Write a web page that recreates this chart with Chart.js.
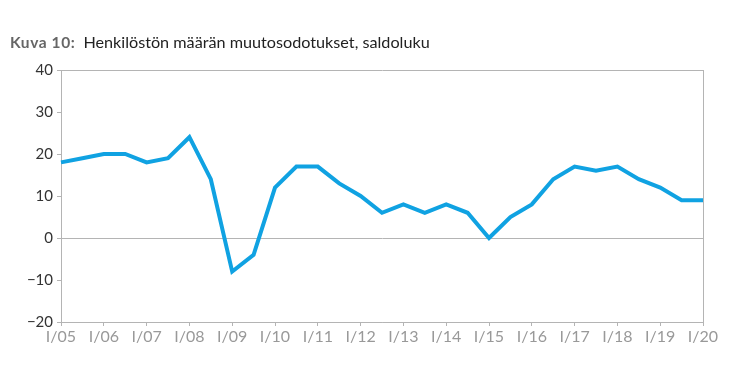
<!DOCTYPE html>
<html><head><meta charset="utf-8">
<script src="https://cdn.jsdelivr.net/npm/chart.js@4/dist/chart.umd.min.js"></script>
<style>
html,body{margin:0;padding:0;background:#fff;width:750px;height:386px;overflow:hidden;}
#wrap{position:relative;width:750px;height:386px;}
#title{position:absolute;left:10px;top:32px;font-family:Lato,"Open Sans",sans-serif;font-size:16.2px;color:#222;white-space:nowrap;}
#title b{color:#666;font-weight:700;font-size:15.5px;letter-spacing:0.6px;margin-right:8px;}
canvas{position:absolute;left:0;top:0;}
</style></head><body>
<div id="wrap">
<canvas id="c" width="750" height="386"></canvas>
<div id="title"><b>Kuva 10:</b>Henkilöstön määrän muutosodotukset, saldoluku</div>
</div>
<script>
const years = ["05","06","07","08","09","10","11","12","13","14","15","16","17","18","19","20"];
const categories = [];
years.forEach((y,i)=>{ categories.push("I/"+y); if(i<years.length-1) categories.push("II/"+y); });
const saldoluku = [18,19,20,20,18,19,24,14,-8,-4,12,17,17,13,10,6,8,6,8,6,0,5,8,14,17,16,17,14,12,9,9];
const yTicks = [-20,-10,0,10,20,30,40];

const grey = '#b4b4b4';
new Chart(document.getElementById('c'), {
  type: 'line',
  data: { labels: categories, datasets: [{ data: saldoluku, borderColor: '#10a2e2', borderWidth: 4, pointRadius: 0, tension: 0, fill: false, borderJoinStyle: 'miter' }] },
  options: {
    responsive: false, animation: false,
    layout: { padding: { top: 70, right: 47, left: 0, bottom: 30 } },
    plugins: { legend: { display: false }, title: { display: false }, tooltip: { enabled: false } },
    scales: {
      x: {
        offset: false,
        border: { display: true, color: grey, width: 1 },
        grid: { drawOnChartArea: true, color: ctx => ctx.index === categories.length - 1 ? grey : 'rgba(0,0,0,0)', tickColor: ctx => (ctx.index % 2 === 0) ? grey : 'rgba(0,0,0,0)', tickLength: 4 },
        ticks: { autoSkip: false, maxRotation: 0, color: '#999', padding: 1, font: { family: 'Lato', size: 16 },
          callback: function(v, i){ const l = categories[i]; return l.startsWith('I/') ? l : ''; } },
        afterFit: s => { s.height = 34; }
      },
      y: {
        min: -20, max: 40,
        border: { display: true, color: grey, width: 1 },
        afterBuildTicks: s => { s.ticks = yTicks.map(v => ({ value: v })); },
        grid: { color: ctx => (ctx.tick && (ctx.tick.value === 0 || ctx.tick.value === 40 || ctx.tick.value === -20)) ? grey : 'rgba(0,0,0,0)', tickColor: grey, tickLength: 4 },
        ticks: { color: '#333', padding: 4, font: { family: 'Lato', size: 15 }, callback: v => String(v).replace('-', '\u2212') },
        afterFit: s => { s.width = 61; }
      }
    }
  }
});
</script>
</body></html>
